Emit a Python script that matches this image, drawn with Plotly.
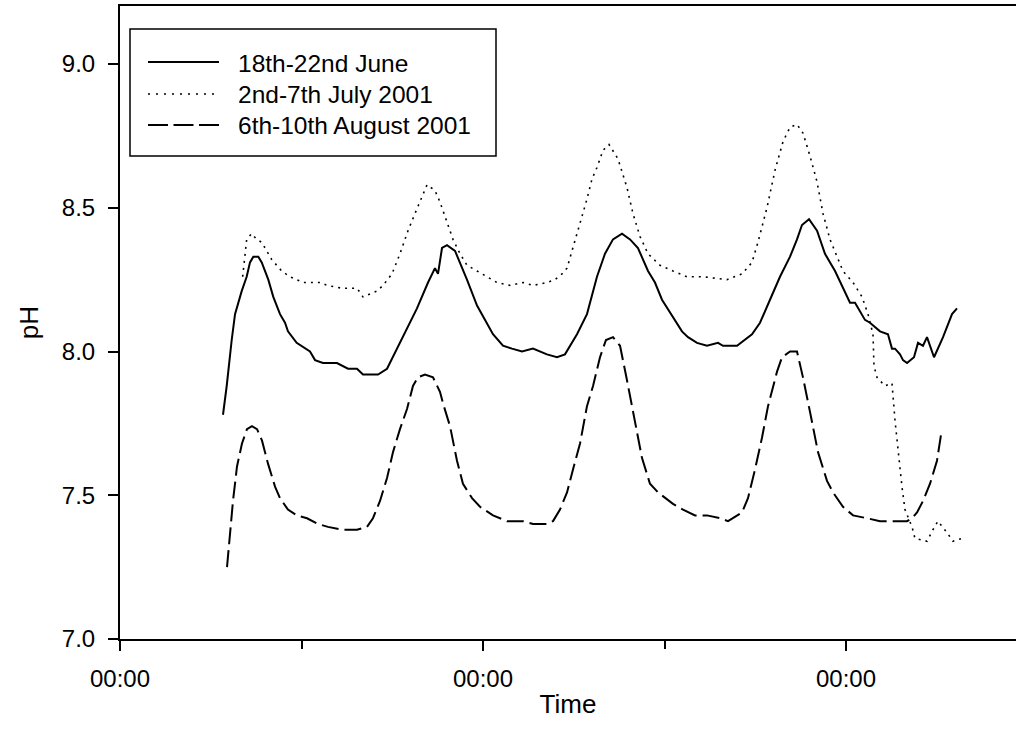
import plotly.graph_objects as go

# ---- Data: elapsed time (hours from first midnight) and pH for each campaign ----
june_hours = [13.62, 14.11, 14.77, 15.21, 16.09, 16.75, 17.19, 17.63, 18.29, 18.74, 19.61, 20.27,
              21.16, 21.82, 22.21, 23.36, 25.12, 25.79, 26.84, 28.69, 30.15, 31.34, 32.13, 34.12,
              35.31, 37.02, 39.27, 40.73, 41.65, 42.05, 42.58, 43.24, 44.30, 45.88, 47.21, 49.32,
              50.64, 51.83, 53.16, 54.61, 56.46, 57.78, 58.84, 60.43, 61.75, 63.07, 64.13, 65.19,
              66.38, 67.44, 68.49, 69.82, 70.74, 71.67, 73.12, 74.31, 75.11, 76.30, 77.62, 79.07,
              79.74, 81.59, 83.57, 84.63, 85.95, 87.27, 88.60, 89.52, 90.18, 91.11, 92.17, 93.22,
              94.55, 96.53, 97.19, 98.51, 99.17, 100.50, 101.55, 102.08, 102.48, 103.14, 103.54,
              104.07, 104.99, 105.52, 106.18, 106.71, 107.64, 108.83, 110.02, 110.68]
june_ph = [7.78, 7.88, 8.04, 8.13, 8.21, 8.26, 8.31, 8.33, 8.33, 8.31, 8.25, 8.19,
           8.13, 8.10, 8.07, 8.03, 8.00, 7.97, 7.96, 7.96, 7.94, 7.94, 7.92, 7.92,
           7.94, 8.03, 8.15, 8.24, 8.29, 8.27, 8.36, 8.37, 8.35, 8.25, 8.16, 8.06,
           8.02, 8.01, 8.00, 8.01, 7.99, 7.98, 7.99, 8.06, 8.13, 8.26, 8.34, 8.39,
           8.41, 8.39, 8.36, 8.28, 8.24, 8.18, 8.12, 8.07, 8.05, 8.03, 8.02, 8.03,
           8.02, 8.02, 8.06, 8.10, 8.18, 8.26, 8.33, 8.39, 8.44, 8.46, 8.42, 8.34,
           8.28, 8.17, 8.17, 8.11, 8.10, 8.07, 8.06, 8.01, 8.01, 7.99, 7.97,
           7.96, 7.98, 8.03, 8.02, 8.05, 7.98, 8.05, 8.13, 8.15]

july_hours = [16.22, 16.53, 16.75, 17.41, 18.08, 18.74, 19.40, 20.06, 21.38, 22.48, 24.20, 26.45,
              27.37, 29.36, 31.34, 32.13, 33.06, 33.98, 34.78, 35.97, 37.02, 38.08, 39.01, 39.93,
              40.60, 41.65, 42.31, 43.24, 44.03, 44.96, 45.88, 47.21, 48.53, 49.85, 51.57, 53.29,
              54.61, 56.46, 57.52, 58.45, 59.11, 59.90, 60.83, 61.75, 62.41, 63.07, 63.87, 64.66,
              65.85, 67.04, 67.83, 68.76, 69.82, 71.40, 73.12, 74.97, 77.09, 80.26, 82.25, 83.57,
              84.36, 85.55, 86.61, 87.67, 88.60, 89.52, 90.31, 91.24, 92.17, 92.96, 93.88, 94.81,
              95.60, 96.93, 98.12, 98.91, 99.57, 99.70, 100.10, 101.16, 102.08, 102.48, 102.88,
              103.40, 103.80, 104.73, 105.12, 106.71, 107.50, 108.16, 109.36, 110.15, 111.34]
july_ph = [8.26, 8.33, 8.39, 8.41, 8.39, 8.38, 8.35, 8.32, 8.28, 8.26, 8.24, 8.24,
           8.23, 8.22, 8.22, 8.19, 8.20, 8.21, 8.23, 8.27, 8.34, 8.42, 8.48, 8.54,
           8.58, 8.56, 8.52, 8.45, 8.39, 8.34, 8.30, 8.28, 8.26, 8.24, 8.23, 8.24,
           8.23, 8.24, 8.25, 8.27, 8.29, 8.36, 8.45, 8.53, 8.60, 8.64, 8.70, 8.72,
           8.67, 8.57, 8.48, 8.40, 8.34, 8.30, 8.28, 8.26, 8.26, 8.25, 8.27, 8.31,
           8.38, 8.50, 8.63, 8.73, 8.78, 8.79, 8.76, 8.68, 8.59, 8.48, 8.39, 8.33,
           8.28, 8.24, 8.19, 8.13, 8.06, 7.95, 7.91, 7.88, 7.89, 7.76, 7.65,
           7.53, 7.45, 7.39, 7.35, 7.34, 7.38, 7.41, 7.37, 7.34, 7.35]

aug_hours = [14.15, 14.55, 14.94, 15.47, 16.13, 16.79, 17.45, 18.12, 18.78, 19.57, 20.50, 21.16,
             22.21, 23.40, 24.73, 26.18, 27.50, 29.49, 31.34, 32.66, 33.45, 34.38, 35.31, 36.10,
             37.02, 37.95, 38.74, 39.40, 40.33, 41.39, 42.31, 42.71, 43.64, 44.56, 45.35, 46.55,
             47.60, 49.32, 51.17, 53.29, 54.61, 56.46, 57.26, 58.18, 59.11, 59.90, 60.83, 61.75,
             62.55, 63.47, 64.26, 65.19, 66.12, 67.04, 67.83, 69.02, 70.08, 71.14, 73.12, 74.45,
             76.03, 77.62, 79.34, 80.40, 82.25, 83.04, 83.97, 84.89, 85.69, 86.88, 87.54, 88.60,
             89.52, 90.31, 91.24, 92.30, 93.49, 94.28, 95.60, 96.93, 98.78, 100.50, 104.07,
             104.73, 105.39, 106.18, 107.11, 108.03, 108.56]
aug_ph = [7.25, 7.37, 7.48, 7.60, 7.68, 7.73, 7.74, 7.73, 7.69, 7.61, 7.53, 7.49,
          7.45, 7.43, 7.42, 7.40, 7.39, 7.38, 7.38, 7.39, 7.42, 7.48, 7.56, 7.65,
          7.73, 7.80, 7.88, 7.91, 7.92, 7.91, 7.86, 7.82, 7.74, 7.62, 7.54, 7.49,
          7.46, 7.43, 7.41, 7.41, 7.40, 7.40, 7.41, 7.45, 7.51, 7.59, 7.68, 7.81,
          7.88, 7.98, 8.04, 8.05, 8.02, 7.90, 7.79, 7.63, 7.54, 7.51, 7.47, 7.45,
          7.43, 7.43, 7.42, 7.41, 7.44, 7.49, 7.59, 7.70, 7.81, 7.93, 7.98, 8.00,
          8.00, 7.91, 7.79, 7.65, 7.55, 7.51, 7.46, 7.43, 7.42, 7.41, 7.41,
          7.42, 7.44, 7.48, 7.54, 7.62, 7.71]

series_names = ["18th-22nd June", "2nd-7th July 2001", "6th-10th August 2001"]
x_tickvals = [0, 48, 96]
x_ticktext = ["00:00", "00:00", "00:00"]
x_minor_tickvals = [24, 72]
y_tickvals = [7.0, 7.5, 8.0, 8.5, 9.0]

# ---- Styling ----
FONT = "Liberation Sans, Arial, sans-serif"
W, H = 1016, 746
ML, MR, MT, MB = 120, 0, 6, 107
dash_styles = ["solid", "2px,5px", "17px,6px"]
legend_dashes = ["solid", "2px,6px", "20px,5.5px"]
widths = [2, 1.6, 2]

fig = go.Figure()
for xs, ys, name, dash, w in zip([june_hours, july_hours, aug_hours],
                                 [june_ph, july_ph, aug_ph],
                                 series_names, dash_styles, widths):
    fig.add_trace(go.Scatter(x=xs, y=ys, mode="lines", name=name, showlegend=False,
                             line=dict(color="black", width=w, dash=dash)))

# Boxed key drawn with shapes and text, using pixel positions within the page
pw, ph = W - ML - MR, H - MT - MB


def px_x(p):
    return (p - ML) / pw


def px_y(p):
    return (H - MB - p) / ph


shapes = [dict(type="rect", xref="paper", yref="paper",
               x0=px_x(130), x1=px_x(496), y0=px_y(156), y1=px_y(29),
               line=dict(color="black", width=1.5), fillcolor="white", layer="above")]
annotations = []
row_y = [62, 94, 125]
for name, dash, w, ry in zip(series_names, legend_dashes, widths, row_y):
    shapes.append(dict(type="line", xref="paper", yref="paper",
                       x0=px_x(148), x1=px_x(219), y0=px_y(ry), y1=px_y(ry),
                       line=dict(color="black", width=w, dash=dash), layer="above"))
    annotations.append(dict(text=name, xref="paper", yref="paper", x=px_x(236), y=px_y(ry + 1),
                            xanchor="left", yanchor="middle", showarrow=False,
                            font=dict(family=FONT, size=24.5, color="black")))

fig.update_layout(
    width=W, height=H,
    margin=dict(l=ML, r=MR, t=MT, b=MB, pad=0),
    paper_bgcolor="white", plot_bgcolor="white",
    font=dict(family=FONT, size=24, color="black"),
    shapes=shapes, annotations=annotations,
    showlegend=False,
)

fig.update_xaxes(
    range=[0, (W - ML - MR) / 181.5 * 24],
    tickmode="array", tickvals=x_tickvals, ticktext=x_ticktext,
    ticks="outside", ticklen=10, tickwidth=1.5, tickcolor="black",
    ticklabelstandoff=7,
    minor=dict(tickmode="array", tickvals=x_minor_tickvals, ticks="outside",
               ticklen=8, tickwidth=1.5, tickcolor="black", showgrid=False),
    showline=True, linecolor="black", linewidth=2, mirror=True,
    showgrid=False, zeroline=False,
    title=dict(text="Time", font=dict(size=26), standoff=4),
)
fig.update_yaxes(
    range=[7.0, 7.0 + (H - MT - MB) / 287.5],
    tickmode="array", tickvals=y_tickvals, tickformat=".1f",
    ticks="outside", ticklen=10, tickwidth=1.5, tickcolor="black",
    ticklabelstandoff=8,
    showline=True, linecolor="black", linewidth=2, mirror=False,
    showgrid=False, zeroline=False,
    title=dict(text="pH", font=dict(size=26), standoff=16),
)

fig.write_html("out.html")
